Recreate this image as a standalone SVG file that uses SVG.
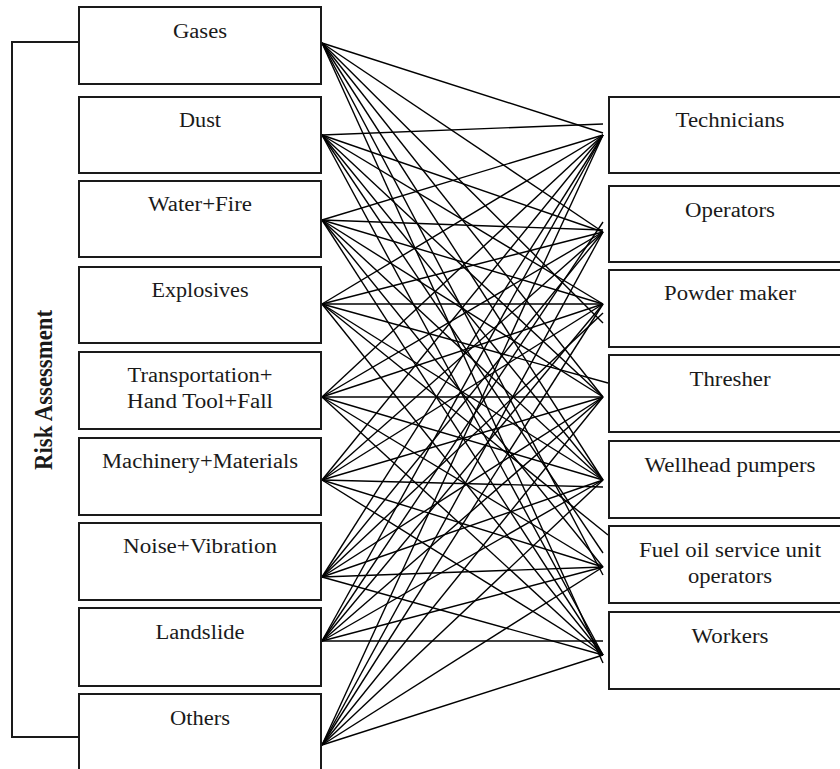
<svg xmlns="http://www.w3.org/2000/svg" width="840" height="769" viewBox="0 0 840 769">
<style>
.box{fill:#fff;stroke:#1a1a1a;stroke-width:2}
.br{fill:none;stroke:#1a1a1a;stroke-width:2}
.lbl{font-family:"Liberation Serif","Times New Roman",serif;font-size:20px;fill:#1a1a1a;text-anchor:middle}
.ttl{font-family:"Liberation Serif","Times New Roman",serif;font-size:21px;font-weight:bold;fill:#1a1a1a;text-anchor:middle}
#connectors line{stroke:#000;stroke-width:1.4}
</style>
<rect width="840" height="769" fill="#fff"/>
<g id="risk-assessment">
<polyline class="br" points="79,42 12,42 12,737 79,737"/>
<text class="ttl" transform="translate(52,390) rotate(-90) scale(1,1.15)" x="0" y="0" textLength="160" lengthAdjust="spacingAndGlyphs">Risk Assessment</text>
</g>
<g id="connectors">
<line x1="322" y1="43" x2="603" y2="133"/>
<line x1="322" y1="43" x2="603" y2="232"/>
<line x1="322" y1="43" x2="603" y2="323"/>
<line x1="322" y1="43" x2="603" y2="397"/>
<line x1="322" y1="43" x2="603" y2="480"/>
<line x1="322" y1="43" x2="603" y2="575"/>
<line x1="322" y1="43" x2="603" y2="663"/>
<line x1="322" y1="135" x2="603" y2="124"/>
<line x1="322" y1="135" x2="603" y2="232"/>
<line x1="322" y1="135" x2="603" y2="304"/>
<line x1="322" y1="135" x2="603" y2="397"/>
<line x1="322" y1="135" x2="603" y2="480"/>
<line x1="322" y1="135" x2="603" y2="553"/>
<line x1="322" y1="135" x2="603" y2="655"/>
<line x1="322" y1="220" x2="603" y2="135"/>
<line x1="322" y1="220" x2="603" y2="230"/>
<line x1="322" y1="220" x2="603" y2="304"/>
<line x1="322" y1="220" x2="603" y2="397"/>
<line x1="322" y1="220" x2="603" y2="480"/>
<line x1="322" y1="220" x2="603" y2="567"/>
<line x1="322" y1="220" x2="603" y2="655"/>
<line x1="322" y1="304" x2="603" y2="135"/>
<line x1="322" y1="304" x2="603" y2="232"/>
<line x1="322" y1="304" x2="603" y2="304"/>
<line x1="322" y1="304" x2="608" y2="383"/>
<line x1="322" y1="304" x2="603" y2="480"/>
<line x1="322" y1="304" x2="608" y2="535"/>
<line x1="322" y1="304" x2="603" y2="655"/>
<line x1="322" y1="397" x2="603" y2="135"/>
<line x1="322" y1="397" x2="603" y2="232"/>
<line x1="322" y1="397" x2="603" y2="304"/>
<line x1="322" y1="397" x2="603" y2="397"/>
<line x1="322" y1="397" x2="603" y2="480"/>
<line x1="322" y1="397" x2="603" y2="567"/>
<line x1="322" y1="397" x2="603" y2="655"/>
<line x1="322" y1="480" x2="603" y2="135"/>
<line x1="322" y1="480" x2="603" y2="232"/>
<line x1="322" y1="480" x2="603" y2="304"/>
<line x1="322" y1="480" x2="603" y2="397"/>
<line x1="322" y1="480" x2="603" y2="487"/>
<line x1="322" y1="480" x2="603" y2="567"/>
<line x1="322" y1="480" x2="603" y2="655"/>
<line x1="322" y1="577" x2="603" y2="135"/>
<line x1="322" y1="577" x2="603" y2="232"/>
<line x1="322" y1="577" x2="603" y2="313"/>
<line x1="322" y1="577" x2="603" y2="397"/>
<line x1="322" y1="577" x2="603" y2="480"/>
<line x1="322" y1="577" x2="603" y2="567"/>
<line x1="322" y1="577" x2="603" y2="655"/>
<line x1="322" y1="641" x2="603" y2="135"/>
<line x1="322" y1="641" x2="603" y2="222"/>
<line x1="322" y1="641" x2="603" y2="304"/>
<line x1="322" y1="641" x2="603" y2="397"/>
<line x1="322" y1="641" x2="603" y2="480"/>
<line x1="322" y1="641" x2="603" y2="567"/>
<line x1="322" y1="641" x2="603" y2="641"/>
<line x1="322" y1="745" x2="603" y2="135"/>
<line x1="322" y1="745" x2="603" y2="232"/>
<line x1="322" y1="745" x2="603" y2="304"/>
<line x1="322" y1="745" x2="603" y2="397"/>
<line x1="322" y1="745" x2="603" y2="480"/>
<line x1="322" y1="745" x2="603" y2="567"/>
<line x1="322" y1="745" x2="603" y2="655"/>
</g>
<g id="gases"><rect class="box" x="79" y="7" width="242" height="77"/><text class="lbl" x="200" y="38" textLength="54" lengthAdjust="spacingAndGlyphs">Gases</text></g>
<g id="dust"><rect class="box" x="79" y="97" width="242" height="76"/><text class="lbl" x="200" y="127" textLength="42" lengthAdjust="spacingAndGlyphs">Dust</text></g>
<g id="water-fire"><rect class="box" x="79" y="181" width="242" height="76"/><text class="lbl" x="200" y="211" textLength="104" lengthAdjust="spacingAndGlyphs">Water+Fire</text></g>
<g id="explosives"><rect class="box" x="79" y="267" width="242" height="76"/><text class="lbl" x="200" y="297" textLength="97" lengthAdjust="spacingAndGlyphs">Explosives</text></g>
<g id="transportation"><rect class="box" x="79" y="352" width="242" height="77"/><text class="lbl" x="200" y="382" textLength="145" lengthAdjust="spacingAndGlyphs">Transportation+</text><text class="lbl" x="200" y="408" textLength="146" lengthAdjust="spacingAndGlyphs">Hand Tool+Fall</text></g>
<g id="machinery"><rect class="box" x="79" y="438" width="242" height="77"/><text class="lbl" x="200" y="468" textLength="196" lengthAdjust="spacingAndGlyphs">Machinery+Materials</text></g>
<g id="noise"><rect class="box" x="79" y="523" width="242" height="77"/><text class="lbl" x="200" y="553" textLength="154" lengthAdjust="spacingAndGlyphs">Noise+Vibration</text></g>
<g id="landslide"><rect class="box" x="79" y="608" width="242" height="78"/><text class="lbl" x="200" y="639" textLength="89" lengthAdjust="spacingAndGlyphs">Landslide</text></g>
<g id="others"><rect class="box" x="79" y="694" width="242" height="80"/><text class="lbl" x="200" y="725" textLength="60" lengthAdjust="spacingAndGlyphs">Others</text></g>
<g id="technicians"><rect class="box" x="609" y="97" width="242" height="76"/><text class="lbl" x="730" y="127" textLength="109" lengthAdjust="spacingAndGlyphs">Technicians</text></g>
<g id="operators"><rect class="box" x="609" y="186" width="242" height="76"/><text class="lbl" x="730" y="217" textLength="90" lengthAdjust="spacingAndGlyphs">Operators</text></g>
<g id="powder-maker"><rect class="box" x="609" y="270" width="242" height="77"/><text class="lbl" x="730" y="300" textLength="132" lengthAdjust="spacingAndGlyphs">Powder maker</text></g>
<g id="thresher"><rect class="box" x="609" y="355" width="242" height="77"/><text class="lbl" x="730" y="386" textLength="81" lengthAdjust="spacingAndGlyphs">Thresher</text></g>
<g id="wellhead-pumpers"><rect class="box" x="609" y="441" width="242" height="77"/><text class="lbl" x="730" y="472" textLength="171" lengthAdjust="spacingAndGlyphs">Wellhead pumpers</text></g>
<g id="fuel-oil"><rect class="box" x="609" y="526" width="242" height="77"/><text class="lbl" x="730" y="557" textLength="182" lengthAdjust="spacingAndGlyphs">Fuel oil service unit</text><text class="lbl" x="730" y="583" textLength="84" lengthAdjust="spacingAndGlyphs">operators</text></g>
<g id="workers"><rect class="box" x="609" y="612" width="242" height="77"/><text class="lbl" x="730" y="643" textLength="77" lengthAdjust="spacingAndGlyphs">Workers</text></g>
</svg>
